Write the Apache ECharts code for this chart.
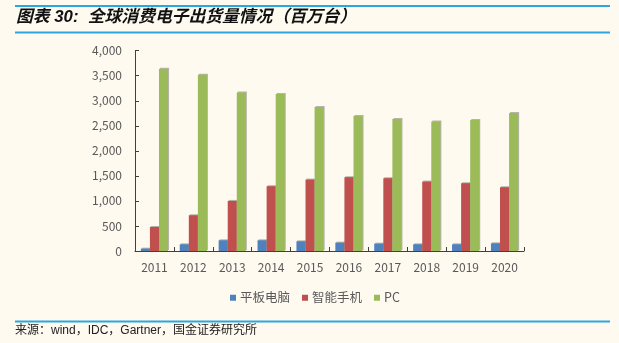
<!DOCTYPE html>
<html>
<head>
<meta charset="utf-8">
<script src="https://cdn.jsdelivr.net/npm/echarts@6/dist/echarts.min.js"></script>
<style>
  html, body { margin: 0; padding: 0; background: #FEFAF0; }
  #chart { width: 619px; height: 343px; }
</style>
</head>
<body>
<div id="chart"></div>
<script>
// Global consumer electronics shipments, millions of units
const years = ['2011', '2012', '2013', '2014', '2015', '2016', '2017', '2018', '2019', '2020'];
const tablets = [47, 134, 214, 214, 194, 167, 147, 134, 134, 154];
const phones = [480, 714, 1000, 1294, 1427, 1474, 1454, 1387, 1354, 1274];
const pcs = [3640, 3520, 3167, 3134, 2874, 2694, 2634, 2587, 2614, 2754];
const seriesNames = ['平板电脑', '智能手机', 'PC'];
const seriesColors = ['#4F81BD', '#C0504D', '#9BBB59'];

const chart = echarts.init(document.getElementById('chart'));

const barShadow = {
  shadowColor: 'rgba(0,0,0,0.28)',
  shadowOffsetX: 1,
  shadowOffsetY: -1,
  shadowBlur: 0
};

chart.setOption({
  backgroundColor: '#FEFAF0',
  animation: false,
  textStyle: { fontFamily: '"Noto Sans CJK SC", "Open Sans", sans-serif' },
  graphic: [
    { type: 'line', shape: { x1: 15, y1: 6, x2: 610, y2: 6 },
      style: { stroke: '#2AA7E1', lineWidth: 2 } },
    { type: 'line', shape: { x1: 15, y1: 32.5, x2: 610, y2: 32.5 },
      style: { stroke: '#2AA7E1', lineWidth: 2 } },
    { type: 'text', left: 16, top: 9,
      style: { text: '图表 30:  全球消费电子出货量情况（百万台）', fill: '#111',
        font: 'italic bold 16.8px "Liberation Sans", "Noto Sans CJK SC", sans-serif' } },
    { type: 'line', shape: { x1: 15, y1: 321.5, x2: 610, y2: 321.5 },
      style: { stroke: '#2AA7E1', lineWidth: 2 } },
    { type: 'text', left: 15, top: 325,
      style: { text: '来源：wind，IDC，Gartner，国金证券研究所', fill: '#222',
        font: '12px "Liberation Sans", "Noto Sans CJK SC", sans-serif' } }
  ],
  grid: { left: 135, right: 95, top: 50.7, bottom: 92, containLabel: false },
  legend: {
    data: seriesNames,
    bottom: 34,
    left: 225,
    itemWidth: 6,
    itemHeight: 6,
    itemGap: 12,
    icon: 'rect',
    textStyle: { color: '#595959', fontSize: 12.5, padding: [0, 0, 0, -1] }
  },
  xAxis: {
    type: 'category',
    data: years,
    axisLine: { lineStyle: { color: '#404040', width: 1 } },
    axisTick: { show: true, inside: true, length: 4, lineStyle: { color: '#404040' } },
    axisLabel: { color: '#595959', fontSize: 12, margin: 10 }
  },
  yAxis: {
    type: 'value',
    min: 0,
    max: 4000,
    interval: 500,
    axisLine: { show: true, lineStyle: { color: '#404040', width: 1 } },
    axisTick: { show: true, inside: true, length: 4, lineStyle: { color: '#404040' } },
    splitLine: { show: false },
    axisLabel: {
      color: '#595959', fontSize: 12, margin: 13,
      formatter: v => v.toLocaleString('en-US')
    }
  },
  series: [
    { name: seriesNames[0], type: 'bar', data: tablets, barGap: '0%', barCategoryGap: '30%',
      itemStyle: Object.assign({ color: seriesColors[0] }, barShadow) },
    { name: seriesNames[1], type: 'bar', data: phones,
      itemStyle: Object.assign({ color: seriesColors[1] }, barShadow) },
    { name: seriesNames[2], type: 'bar', data: pcs,
      itemStyle: Object.assign({ color: seriesColors[2] }, barShadow) }
  ]
});
</script>
</body>
</html>
